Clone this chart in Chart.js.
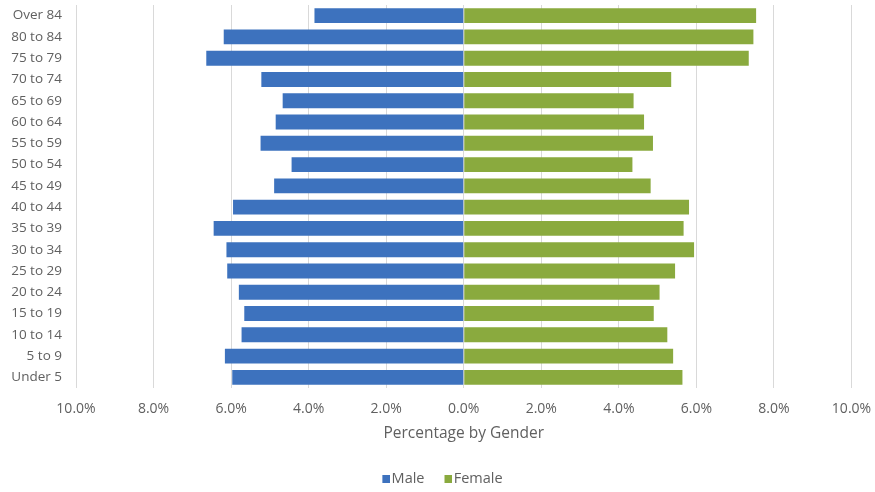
<!DOCTYPE html>
<html>
<head>
<meta charset="utf-8">
<script src="https://cdn.jsdelivr.net/npm/chart.js@4/dist/chart.umd.min.js"></script>
<style>
  html, body { margin: 0; padding: 0; background: #fff; }
  #wrap { width: 875px; height: 492px; position: relative; }
</style>
</head>
<body>
<div id="wrap"><canvas id="pyramid"></canvas></div>
<script>
// age groups, top row first
const ageGroups = ['Over 84', '80 to 84', '75 to 79', '70 to 74', '65 to 69', '60 to 64',
  '55 to 59', '50 to 54', '45 to 49', '40 to 44', '35 to 39', '30 to 34',
  '25 to 29', '20 to 24', '15 to 19', '10 to 14', '5 to 9', 'Under 5'];

// share of each gender (%)
const malePct = [3.85, 6.19, 6.64, 5.22, 4.67, 4.85, 5.24, 4.44, 4.89,
  5.95, 6.45, 6.12, 6.10, 5.80, 5.66, 5.73, 6.16, 5.97];
const femalePct = [7.54, 7.47, 7.35, 5.35, 4.38, 4.65, 4.88, 4.35, 4.82,
  5.81, 5.67, 5.94, 5.45, 5.05, 4.90, 5.25, 5.40, 5.64];

const axisTicks = [-10, -8, -6, -4, -2, 0, 2, 4, 6, 8, 10];

const BLUE = '#3d72be';
const GREEN = '#8aaa3e';
const TEXT = '#606060';

Chart.defaults.font.family = '"Open Sans", sans-serif';
Chart.defaults.color = TEXT;

// small square legend marker sitting at the right of its slot,
// so it hugs the label text
function legendMarker(color) {
  const c = document.createElement('canvas');
  c.width = 24;
  c.height = 8;
  const g = c.getContext('2d');
  g.fillStyle = color;
  g.fillRect(16, 0, 8, 8);
  return c;
}

new Chart(document.getElementById('pyramid'), {
  type: 'bar',
  data: {
    labels: ageGroups,
    datasets: [
      {
        label: 'Male',
        data: malePct.map(v => -v),   // left side
        backgroundColor: BLUE,
        pointStyle: legendMarker(BLUE),
        barPercentage: 0.7,
        categoryPercentage: 1.0
      },
      {
        label: 'Female',
        data: femalePct,
        backgroundColor: GREEN,
        pointStyle: legendMarker(GREEN),
        barPercentage: 0.7,
        categoryPercentage: 1.0
      }
    ]
  },
  options: {
    indexAxis: 'y',
    responsive: true,
    maintainAspectRatio: false,
    animation: false,
    layout: { padding: { top: 5, right: 0, left: 0, bottom: 0 } },
    scales: {
      x: {
        stacked: true,
        min: -10,
        max: 10,
        afterBuildTicks: scale => { scale.ticks = axisTicks.map(v => ({ value: v })); },
        afterFit: scale => {
          scale.height = 74;
          scale.paddingLeft = 0;
          scale.paddingRight = 23.5;   // room for the last tick label
        },
        grid: { color: '#d9d9d9', drawTicks: false },
        border: { display: false },
        ticks: {
          padding: 13,
          font: { size: 14 },
          callback: v => Math.abs(v).toFixed(1) + '%'
        },
        title: {
          display: true,
          text: 'Percentage by Gender',
          font: { size: 15.5 },
          padding: { top: 0, bottom: 18.7 }
        }
      },
      y: {
        stacked: true,
        grid: { display: false, drawTicks: false },
        border: { display: false },
        afterFit: scale => {
          scale.width = 76;
          scale.paddingTop = 0;
          scale.paddingBottom = 0;
        },
        ticks: { padding: 14, font: { size: 13.5 } }
      }
    },
    plugins: {
      legend: {
        position: 'bottom',
        maxHeight: 30,
        labels: {
          usePointStyle: true,
          pointStyleWidth: 12,
          boxHeight: 8,
          padding: 10,
          font: { size: 14.5 }
        }
      },
      tooltip: { enabled: false }
    }
  }
});
</script>
</body>
</html>
